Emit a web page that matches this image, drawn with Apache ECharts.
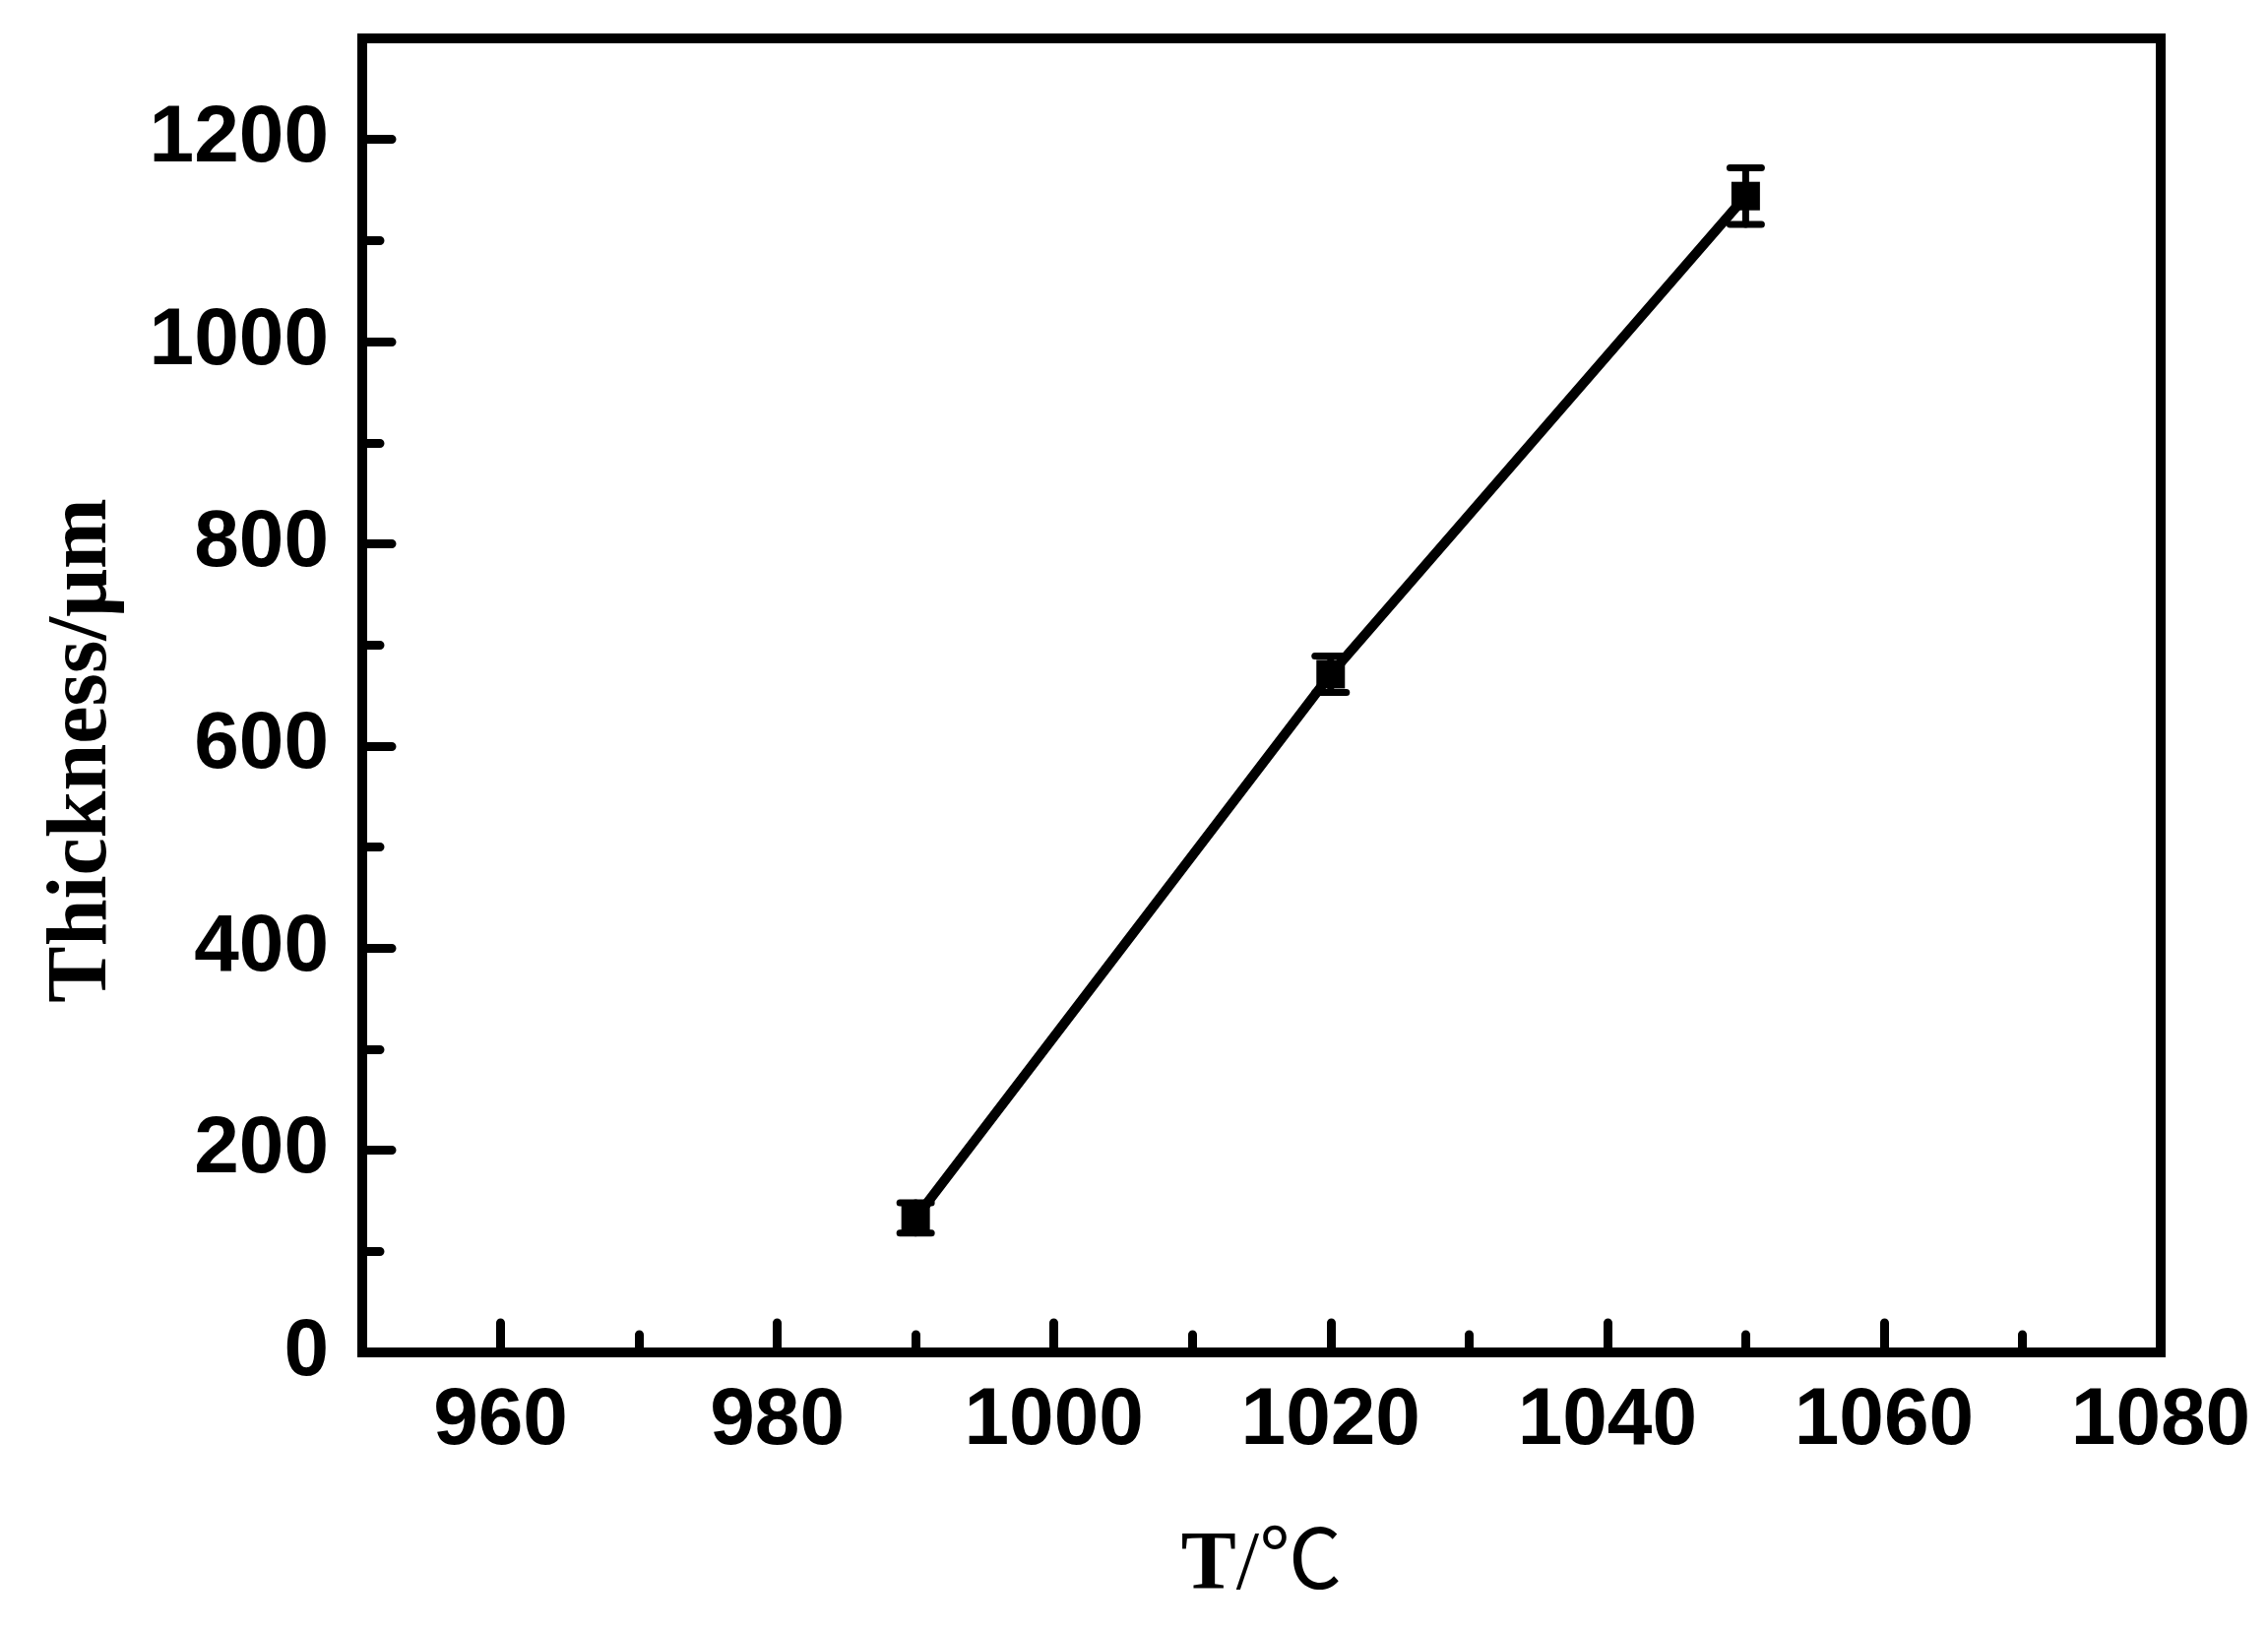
<!DOCTYPE html>
<html>
<head>
<meta charset="utf-8">
<title>Thickness vs T</title>
<script src="https://cdn.jsdelivr.net/npm/echarts@6/dist/echarts.min.js"></script>
<style>
	html, body { margin: 0; padding: 0; background: #fff; }
	#chart { width: 2304px; height: 1655px; }
</style>
</head>
<body>
<div id="chart"></div>
<script>
	// data
	var tempVals = [990, 1020, 1050]
	var thickVals = [133, 671, 1144]
	var errVals = [15, 18, 28]

	var xLabelVals = [960, 980, 1000, 1020, 1040, 1060, 1080]
	var xMinorVals = [970, 990, 1010, 1030, 1050, 1070]
	var yLabelVals = [0, 200, 400, 600, 800, 1000, 1200]
	var yMinorVals = [100, 300, 500, 700, 900, 1100]

	var lineData = []
	var errData = []
	for (var i = 0; i < tempVals.length; i++) {
		lineData.push([tempVals[i], thickVals[i]])
		errData.push([tempVals[i], thickVals[i] - errVals[i], thickVals[i] + errVals[i]])
	}

	var labelFont = {
		color: '#000',
		fontSize: 82,
		fontWeight: 'bold',
		fontFamily: "'Liberation Sans', Arial, sans-serif",
		formatter: function (v) { return String(v) }
	}

	var chart = echarts.init(document.getElementById('chart'))
	chart.setOption({
		animation: false,
		backgroundColor: '#fff',
		grid: {
			left: 368,
			right: 109,
			top: 39,
			bottom: 281,
			outerBoundsMode: 'none',
			containLabel: false,
			show: true,
			borderColor: '#000',
			borderWidth: 10
		},
		xAxis: [{
			type: 'value',
			min: 950,
			max: 1080,
			position: 'bottom',
			name: '{b|T}{n|/℃}',
			nameLocation: 'middle',
			nameGap: 176,
			nameTextStyle: {
				rich: {
					b: { fontSize: 84, fontWeight: 'bold', color: '#000', fontFamily: "'Liberation Serif', 'Times New Roman', serif" },
					n: { fontSize: 84, color: '#000', fontFamily: "'Liberation Serif', 'Times New Roman', 'Noto Sans CJK SC', serif" }
				}
			},
			axisLine: { show: true, lineStyle: { color: '#000', width: 10 } },
			axisTick: {
				show: true, inside: true, length: 30,
				customValues: xLabelVals,
				lineStyle: { color: '#000', width: 9, cap: 'round' }
			},
			axisLabel: Object.assign({ margin: 29, customValues: xLabelVals }, labelFont),
			splitLine: { show: false }
		}, {
			// minor ticks
			type: 'value',
			min: 950,
			max: 1080,
			position: 'bottom',
			axisLine: { show: false },
			axisTick: {
				show: true, inside: true, length: 18,
				customValues: xMinorVals,
				lineStyle: { color: '#000', width: 9, cap: 'round' }
			},
			axisLabel: { show: false },
			splitLine: { show: false }
		}],
		yAxis: [{
			type: 'value',
			min: 0,
			max: 1300,
			position: 'left',
			name: 'Thickness/μm',
			nameLocation: 'middle',
			nameRotate: 90,
			nameGap: 240,
			nameTextStyle: {
				color: '#000',
				fontSize: 86,
				fontWeight: 'bold',
				fontFamily: "'Liberation Serif', 'Times New Roman', serif",
				padding: [0, 112, 0, 0]
			},
			axisLine: { show: true, lineStyle: { color: '#000', width: 10 } },
			axisTick: {
				show: true, inside: true, length: 30,
				customValues: yLabelVals,
				lineStyle: { color: '#000', width: 9, cap: 'round' }
			},
			axisLabel: Object.assign({ margin: 34, customValues: yLabelVals }, labelFont),
			splitLine: { show: false }
		}, {
			type: 'value',
			min: 0,
			max: 1300,
			position: 'left',
			axisLine: { show: false },
			axisTick: {
				show: true, inside: true, length: 18,
				customValues: yMinorVals,
				lineStyle: { color: '#000', width: 9, cap: 'round' }
			},
			axisLabel: { show: false },
			splitLine: { show: false }
		}],
		series: [{
			name: 'err',
			type: 'custom',
			xAxisIndex: 0,
			yAxisIndex: 0,
			encode: { x: 0, y: [1, 2] },
			data: errData,
			z: 3,
			renderItem: function (params, api) {
				var x = api.value(0)
				var lo = api.coord([x, api.value(1)])
				var hi = api.coord([x, api.value(2)])
				var half = 16
				var st = { stroke: '#000', lineWidth: 7, lineCap: 'round' }
				return {
					type: 'group',
					children: [
						{ type: 'line', shape: { x1: hi[0], y1: hi[1], x2: lo[0], y2: lo[1] }, style: st },
						{ type: 'line', shape: { x1: hi[0] - half, y1: hi[1], x2: hi[0] + half, y2: hi[1] }, style: st },
						{ type: 'line', shape: { x1: lo[0] - half, y1: lo[1], x2: lo[0] + half, y2: lo[1] }, style: st }
					]
				}
			}
		}, {
			name: 'Thickness',
			type: 'line',
			xAxisIndex: 0,
			yAxisIndex: 0,
			data: lineData,
			symbol: 'rect',
			symbolSize: 29,
			z: 4,
			itemStyle: { color: '#000' },
			lineStyle: { color: '#000', width: 10 }
		}]
	})
</script>
</body>
</html>
